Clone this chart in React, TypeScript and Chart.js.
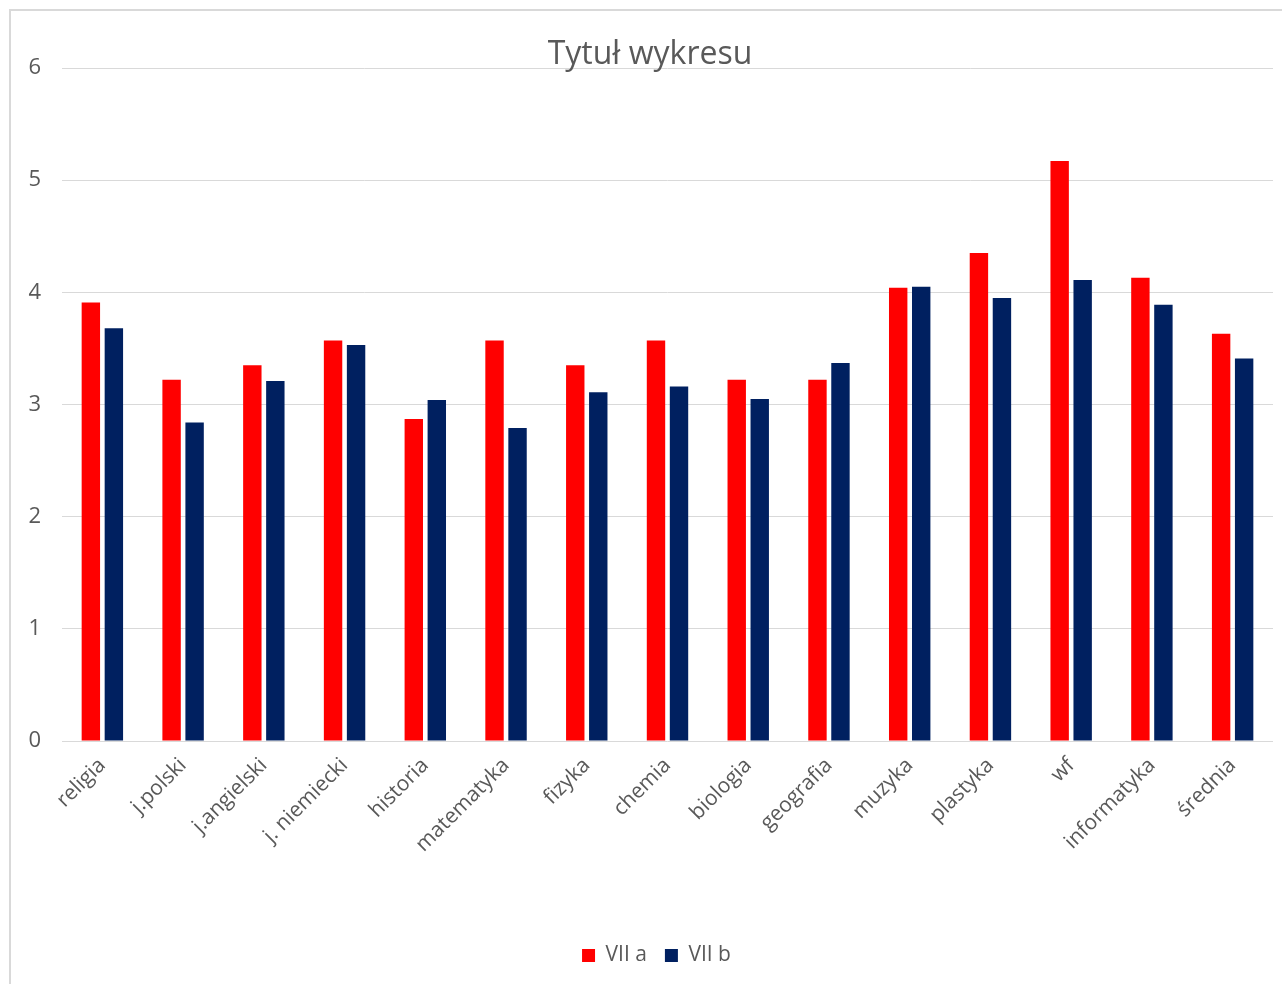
import React, { useEffect, useRef } from "react";
import { Chart, registerables } from "chart.js";

Chart.register(...registerables);

const categories = [
  "religia",
  "j.polski",
  "j.angielski",
  "j. niemiecki",
  "historia",
  "matematyka",
  "fizyka",
  "chemia",
  "biologia",
  "geografia",
  "muzyka",
  "plastyka",
  "wf",
  "informatyka",
  "średnia",
];
const seriesVIIa = [3.91, 3.22, 3.35, 3.57, 2.87, 3.57, 3.35, 3.57, 3.22, 3.22, 4.04, 4.35, 5.17, 4.13, 3.63];
const seriesVIIb = [3.68, 2.84, 3.21, 3.53, 3.04, 2.79, 3.11, 3.16, 3.05, 3.37, 4.05, 3.95, 4.11, 3.89, 3.41];
const seriesNames = ["VII a", "VII b"];
const titleText = "Tytuł wykresu";

const FONT = "'Open Sans', 'DejaVu Sans', sans-serif";
const TEXT = "#595959";

export default function App() {
  const ref = useRef<HTMLCanvasElement>(null);
  useEffect(() => {
    const titlePlugin = {
      id: "excelTitle",
      afterLayout(chart: any) {
        const lg = chart.legend;
        if (lg) {
          lg.left += 15;
          lg.right += 15;
        }
      },
      afterDraw(chart: any) {
        const ctx = chart.ctx;
        ctx.save();
        ctx.font = `32px ${FONT}`;
        ctx.fillStyle = TEXT;
        ctx.textAlign = "center";
        ctx.textBaseline = "alphabetic";
        ctx.fillText(titleText, 640, 53);
        ctx.restore();
      },
    };
    const chart = new Chart(ref.current!, {
      type: "bar",
      data: {
        labels: categories,
        datasets: [
          { label: seriesNames[0], data: seriesVIIa, backgroundColor: "#FF0000", borderWidth: 0 },
          { label: seriesNames[1], data: seriesVIIb, backgroundColor: "#002060", borderWidth: 0 },
        ],
      },
      options: {
        responsive: false,
        animation: false,
        devicePixelRatio: 1,
        layout: { padding: { top: 57, right: 8, bottom: 9, left: 0 } },
        datasets: { bar: { categoryPercentage: 0.57, barPercentage: 0.8 } },
        scales: {
          x: {
            grid: { display: false },
            border: { display: false },
            ticks: {
              color: TEXT,
              font: { family: FONT, size: 21 },
              minRotation: 45,
              maxRotation: 45,
              padding: 4,
              autoSkip: false,
            },
            afterFit(scale: any) {
              scale.height = 186;
            },
          },
          y: {
            min: 0,
            max: 6,
            grid: { color: "#d9d9d9", lineWidth: 1, drawTicks: false },
            border: { display: false },
            ticks: {
              stepSize: 1,
              color: TEXT,
              font: { family: FONT, size: 22 },
              padding: 21,
            },
            afterFit(scale: any) {
              scale.width = 52;
            },
          },
        },
        plugins: {
          title: { display: false },
          tooltip: { enabled: false },
          legend: {
            position: "bottom",
            labels: {
              color: TEXT,
              font: { family: FONT, size: 21 },
              boxWidth: 13,
              boxHeight: 13,
              padding: 18,
            },
          },
        },
      },
      plugins: [titlePlugin],
    });
    return () => chart.destroy();
  }, []);
  return (
    <div
      style={{
        position: "absolute",
        left: 9,
        top: 9,
        width: 1272,
        height: 974,
        borderLeft: "2px solid #d9d9d9",
        borderTop: "2px solid #d9d9d9",
        background: "#fff",
      }}
    >
      <canvas ref={ref} width={1271} height={974} style={{ display: "block", marginLeft: -1 }} />
    </div>
  );
}
